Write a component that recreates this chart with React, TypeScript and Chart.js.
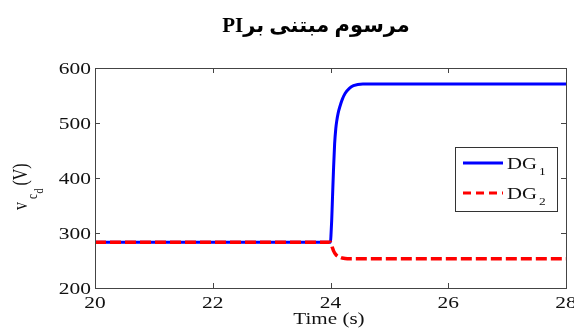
import React, { useEffect, useRef } from "react";
import { Chart, registerables } from "chart.js";

Chart.register(...registerables);

const time = [20, 24, 24.01, 24.02, 24.03, 24.04, 24.05, 24.07, 24.09, 24.105, 24.13, 24.16, 24.2, 24.25, 24.32, 24.39, 24.55, 28];
const dg1 = [283, 283, 300, 322, 352, 383, 412, 462, 490, 503, 518, 530, 543, 554, 563, 568, 571, 571];
const dg2 = [283, 283, 281, 278, 274, 271, 268, 264, 261, 259, 257, 256, 254.5, 253.5, 253, 253, 253, 253];
const xTicks = [20, 22, 24, 26, 28];
const yTicks = [200, 300, 400, 500, 600];
const titleText = "مرسوم مبتنی برPI";
const xTitle = "Time (s)";
const seriesNames = ["DG", "DG"];
const seriesSubs = ["1", "2"];

const SX = 1.26;
const SERIF = "'Liberation Serif', 'Times New Roman', serif";

function sText(ctx: CanvasRenderingContext2D, text: string, x: number, y: number, align: CanvasTextAlign, sx = SX) {
  ctx.save();
  ctx.translate(x, y);
  ctx.scale(sx, 1);
  ctx.textAlign = align;
  ctx.textBaseline = "alphabetic";
  ctx.fillText(text, 0, 0);
  ctx.restore();
}

const decor = {
  id: "decor",
  afterDraw(chart: any) {
    const ctx: CanvasRenderingContext2D = chart.ctx;
    const { left, right, top, bottom } = chart.chartArea;
    const xs = chart.scales.x;
    const ys = chart.scales.y;
    ctx.save();
    // box
    ctx.strokeStyle = "#444";
    ctx.lineWidth = 1;
    ctx.strokeRect(Math.round(left) + 0.5, Math.round(top) + 0.5, Math.round(right - left), Math.round(bottom - top));
    // ticks
    ctx.beginPath();
    for (const v of xTicks) {
      const px = Math.round(xs.getPixelForValue(v)) + 0.5;
      ctx.moveTo(px, bottom);
      ctx.lineTo(px, bottom - 5);
      ctx.moveTo(px, top);
      ctx.lineTo(px, top + 5);
    }
    for (const v of yTicks) {
      const py = Math.round(ys.getPixelForValue(v)) + 0.5;
      ctx.moveTo(left, py);
      ctx.lineTo(left + 5, py);
      ctx.moveTo(right, py);
      ctx.lineTo(right - 5, py);
    }
    ctx.stroke();
    // tick labels
    ctx.fillStyle = "#111";
    ctx.font = `17px ${SERIF}`;
    for (const v of xTicks) {
      sText(ctx, String(v), xs.getPixelForValue(v), 308, "center");
    }
    for (const v of yTicks) {
      sText(ctx, String(v), 91, ys.getPixelForValue(v) + 6, "right");
    }
    // x title
    sText(ctx, xTitle, 329, 324, "center", 1.24);
    // y title rotated
    ctx.save();
    ctx.translate(27, 210);
    ctx.scale(1.25, 1);
    ctx.rotate(-Math.PI / 2);
    ctx.textAlign = "left";
    ctx.textBaseline = "alphabetic";
    ctx.font = `16px ${SERIF}`;
    ctx.fillText("v", 0, 0);
    let u = ctx.measureText("v").width + 3;
    ctx.font = `11px ${SERIF}`;
    ctx.fillText("c", u, 8);
    u += ctx.measureText("c").width + 0.5;
    ctx.font = `10px ${SERIF}`;
    ctx.fillText("d", u, 13);
    u += ctx.measureText("d").width + 3;
    ctx.font = `16px ${SERIF}`;
    ctx.fillText("(V)", u, 0);
    ctx.restore();
    // title
    ctx.save();
    ctx.fillStyle = "#000";
    ctx.font = `bold 21px ${SERIF}, 'DejaVu Sans'`;
    ctx.direction = "rtl";
    ctx.textAlign = "center";
    ctx.textBaseline = "alphabetic";
    ctx.fillText(titleText, 316, 32);
    ctx.restore();
    // legend
    ctx.fillStyle = "#fff";
    ctx.fillRect(455, 147, 102, 64);
    ctx.strokeStyle = "#333";
    ctx.lineWidth = 1;
    ctx.strokeRect(455.5, 147.5, 102, 64);
    const rows = [163, 193];
    const colors = ["#0000ff", "#ff0000"];
    rows.forEach((ry, i) => {
      ctx.beginPath();
      ctx.strokeStyle = colors[i];
      ctx.lineWidth = 3;
      ctx.setLineDash(i === 1 ? [8, 5] : []);
      ctx.moveTo(463, ry);
      ctx.lineTo(503, ry);
      ctx.stroke();
      ctx.setLineDash([]);
      ctx.fillStyle = "#111";
      ctx.font = `17px ${SERIF}`;
      sText(ctx, seriesNames[i], 507, ry + 6, "left", 1.22);
      const w = ctx.measureText(seriesNames[i]).width * 1.22;
      ctx.font = `11px ${SERIF}`;
      sText(ctx, seriesSubs[i], 507 + w + 2, ry + 12, "left", 1.22);
    });
    ctx.restore();
  },
};

export default function App() {
  const ref = useRef<HTMLCanvasElement>(null);
  useEffect(() => {
    if (!ref.current) return;
    const chart = new Chart(ref.current, {
      type: "line",
      data: {
        datasets: [
          {
            label: "DG1",
            data: time.map((t, i) => ({ x: t, y: dg1[i] })),
            borderColor: "#0000ff",
            borderWidth: 3,
            pointRadius: 0,
            cubicInterpolationMode: "monotone",
            order: 1,
          },
          {
            label: "DG2",
            data: time.map((t, i) => ({ x: t, y: dg2[i] })),
            borderColor: "#ff0000",
            borderWidth: 3.5,
            borderDash: [11, 4],
            pointRadius: 0,
            cubicInterpolationMode: "monotone",
            order: 0,
          },
        ],
      },
      options: {
        responsive: false,
        animation: false,
        devicePixelRatio: 1,
        layout: { padding: { top: 68, right: 8, left: 0, bottom: 0 } },
        plugins: { legend: { display: false }, tooltip: { enabled: false }, title: { display: false } },
        scales: {
          x: {
            type: "linear",
            min: 20,
            max: 28,
            ticks: { display: false, stepSize: 2 },
            grid: { display: false },
            border: { display: false },
            afterFit: (s: any) => { s.height = 41; },
          },
          y: {
            type: "linear",
            min: 200,
            max: 600,
            ticks: { display: false, stepSize: 100 },
            grid: { display: false },
            border: { display: false },
            afterFit: (s: any) => { s.width = 95; },
          },
        },
      },
      plugins: [decor],
    } as any);
    return () => chart.destroy();
  }, []);
  return (
    <div style={{ position: "fixed", left: 0, top: 0, width: 574, height: 329, background: "#fff" }}>
      <canvas ref={ref} width={574} height={329} />
    </div>
  );
}
